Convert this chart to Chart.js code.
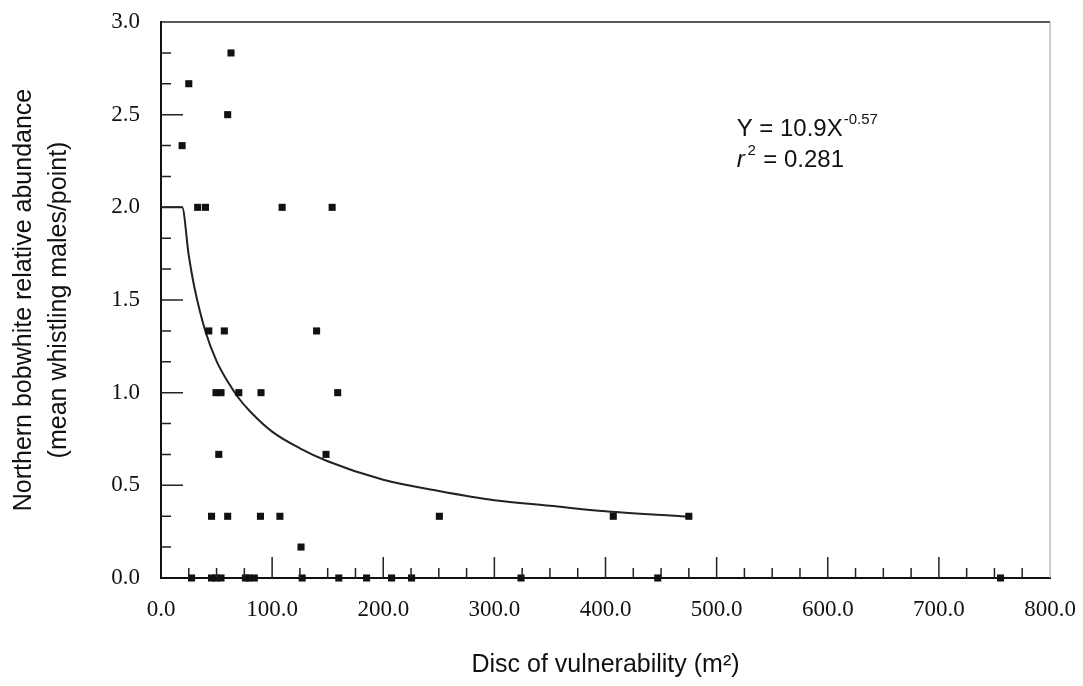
<!DOCTYPE html>
<html lang="en">
<head>
  <meta charset="UTF-8">
  <title>Northern bobwhite abundance vs disc of vulnerability</title>
  <script src="https://cdn.jsdelivr.net/npm/chart.js@4.4.1/dist/chart.umd.min.js"></script>
  <style>
    html, body {
      margin: 0;
      padding: 0;
      background: #fff;
    }
    canvas {
      display: block;
    }
  </style>
</head>
<body>
<canvas id="discChart" width="1083" height="686"></canvas>

<script>
  // observed points: disc of vulnerability (m2) and mean whistling males/point
  const discX = [19, 25, 63, 60, 33, 40, 109, 154,
                 43, 57, 140,
                 49.5, 54, 70, 90, 159,
                 52, 148.5,
                 45.5, 60, 89.5, 107, 250.5, 407, 475,
                 126,
                 27.5, 45.5, 49.5, 54, 76, 79, 84, 127, 160, 185, 207.5, 225.5, 324, 447, 755.5];
  const abundance = [2.333, 2.667, 2.833, 2.5, 2, 2, 2, 2,
                     1.333, 1.333, 1.333,
                     1, 1, 1, 1, 1,
                     0.667, 0.667,
                     0.333, 0.333, 0.333, 0.333, 0.333, 0.333, 0.333,
                     0.167,
                     0, 0, 0, 0, 0, 0, 0, 0, 0, 0, 0, 0, 0, 0, 0];

  // fitted curve (capped at 2.0 near the origin)
  const fitX = [0, 19, 25, 30, 40, 50, 60, 70, 80, 100, 125, 150, 200, 250, 300, 350, 400, 476];
  const fitY = [2.0, 2.0, 1.74, 1.57, 1.33, 1.17, 1.06, 0.97, 0.90, 0.79, 0.70, 0.63, 0.53, 0.47, 0.42, 0.39, 0.36, 0.33];

  const xTicks = [0, 100, 200, 300, 400, 500, 600, 700, 800];
  const yTicks = [0, 0.5, 1.0, 1.5, 2.0, 2.5, 3.0];

  const points = discX.map((x, i) => ({ x: x, y: abundance[i] }));
  const curve = fitX.map((x, i) => ({ x: x, y: fitY[i] }));

  // frame + inward tick marks + equation text
  const framePlugin = {
    id: 'frame',
    afterDraw(chart) {
      const { ctx, chartArea: a, scales: { x, y } } = chart;
      ctx.save();
      ctx.strokeStyle = '#222';
      ctx.lineWidth = 1.5;
      ctx.beginPath();
      ctx.moveTo(a.left, a.top);
      ctx.lineTo(a.right, a.top);
      ctx.stroke();
      ctx.strokeStyle = '#999';
      ctx.lineWidth = 1;
      ctx.beginPath();
      ctx.moveTo(a.right, a.top);
      ctx.lineTo(a.right, a.bottom);
      ctx.stroke();

      ctx.strokeStyle = '#222';
      ctx.lineWidth = 1.5;
      ctx.beginPath();
      // y ticks every 1/6, long ones at the labelled values
      for (let k = 1; k < 18; k++) {
        const py = y.getPixelForValue(k / 6);
        const len = k % 3 === 0 ? 22 : 10;
        ctx.moveTo(a.left, py);
        ctx.lineTo(a.left + len, py);
      }
      // x ticks every 25
      for (let k = 1; k < 32; k++) {
        const px = x.getPixelForValue(k * 25);
        const len = k % 4 === 0 ? 21 : 10;
        ctx.moveTo(px, a.bottom);
        ctx.lineTo(px, a.bottom - len);
      }
      ctx.stroke();

      // equation
      const ex = x.getPixelForValue(518);
      const ey1 = y.getPixelForValue(2.42);
      const ey2 = ey1 + 31;
      ctx.fillStyle = '#111';
      ctx.textBaseline = 'middle';
      ctx.textAlign = 'left';
      ctx.font = '24px "Liberation Sans", Arial, sans-serif';
      const t1 = 'Y = 10.9X';
      ctx.fillText(t1, ex, ey1);
      let w = ctx.measureText(t1).width;
      ctx.font = '15px "Liberation Sans", Arial, sans-serif';
      ctx.fillText('-0.57', ex + w + 1, ey1 - 10);

      ctx.font = 'italic 24px "Liberation Sans", Arial, sans-serif';
      ctx.fillText('r', ex, ey2);
      w = ctx.measureText('r').width;
      ctx.font = '15px "Liberation Sans", Arial, sans-serif';
      ctx.fillText('2', ex + w + 3, ey2 - 10);
      ctx.font = '24px "Liberation Sans", Arial, sans-serif';
      ctx.fillText(' = 0.281', ex + w + 12, ey2);
      ctx.restore();
    }
  };

  new Chart(document.getElementById('discChart'), {
    type: 'scatter',
    data: {
      datasets: [
        {
          label: 'Observed',
          data: points,
          pointStyle: 'rect',
          pointRadius: 5,
          pointBackgroundColor: '#111',
          pointBorderColor: '#111',
          pointBorderWidth: 0,
          clip: false
        },
        {
          label: 'Fit',
          data: curve,
          showLine: true,
          borderColor: '#222',
          borderWidth: 2,
          pointRadius: 0,
          cubicInterpolationMode: 'monotone',
          fill: false
        }
      ]
    },
    options: {
      responsive: false,
      animation: false,
      layout: { padding: { left: 0, top: 22, right: 33, bottom: 0 } },
      plugins: {
        legend: { display: false },
        tooltip: { enabled: false }
      },
      scales: {
        x: {
          type: 'linear',
          min: 0,
          max: 800,
          afterBuildTicks: s => { s.ticks = xTicks.map(v => ({ value: v })); },
          afterFit: s => { s.height = 108; s.paddingLeft = 0; s.paddingRight = 0; },
          grid: { display: false, drawTicks: false },
          border: { color: '#111', width: 2 },
          ticks: {
            padding: 18,
            color: '#111',
            font: { family: '"Liberation Serif", "Times New Roman", serif', size: 23 },
            callback: v => v.toFixed(1)
          },
          title: {
            display: true,
            text: 'Disc of vulnerability (m²)',
            color: '#111',
            font: { family: '"Liberation Sans", Arial, sans-serif', size: 25, lineHeight: 1.2 },
            padding: { top: 0, bottom: 6 }
          }
        },
        y: {
          min: 0,
          max: 3,
          afterBuildTicks: s => { s.ticks = yTicks.map(v => ({ value: v })); },
          afterFit: s => { s.width = 161; s.paddingTop = 0; s.paddingBottom = 0; },
          grid: { display: false, drawTicks: false },
          border: { color: '#111', width: 2 },
          ticks: {
            padding: 21,
            color: '#111',
            font: { family: '"Liberation Serif", "Times New Roman", serif', size: 23 },
            callback: v => v.toFixed(1)
          },
          title: {
            display: true,
            text: ['Northern bobwhite relative abundance', '(mean whistling males/point)'],
            color: '#111',
            font: { family: '"Liberation Sans", Arial, sans-serif', size: 25, lineHeight: 1.4 },
            padding: { top: 7, bottom: 0 }
          }
        }
      }
    },
    plugins: [framePlugin]
  });
</script>

</body>
</html>
